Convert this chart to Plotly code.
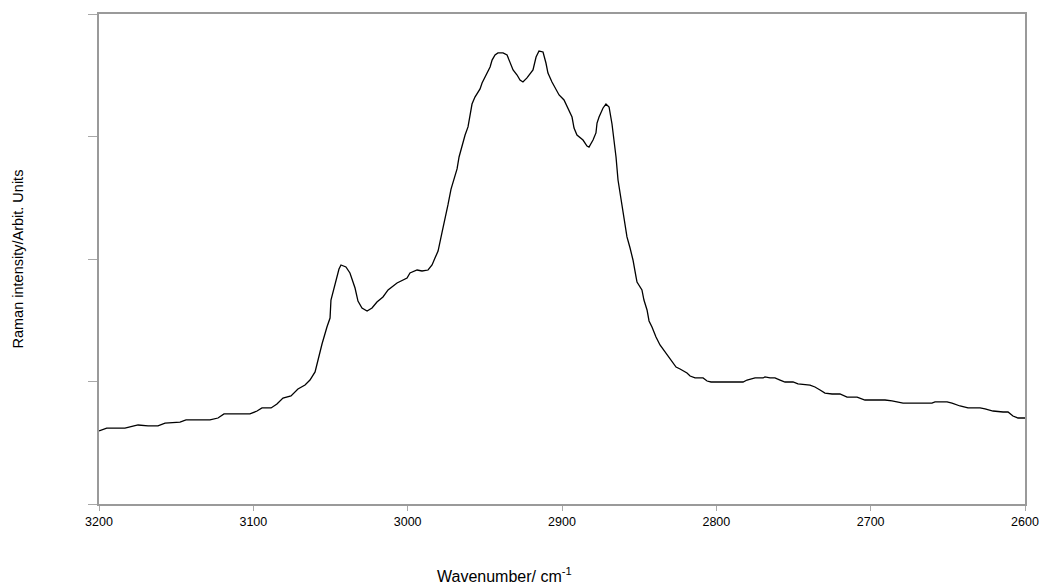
import plotly.graph_objects as go

# Raman spectrum, C-H stretching region
wavenumber = [
    3200, 3195, 3183.2, 3174.7, 3168.2, 3161.8, 3157.2, 3147.5, 3143.6, 3128.1,
    3122.9, 3119, 3102.2, 3097.6, 3094.4, 3088.5, 3084.7, 3080.8, 3075.6, 3071.1,
    3066.5, 3063.3, 3060, 3058.1, 3055.5, 3052.3, 3050.3, 3049.7, 3047.1, 3044.5,
    3043.2, 3040, 3037.4, 3034.1, 3032.2, 3029.6, 3026.3, 3023.1, 3019.9, 3016,
    3012.7, 3006.9, 3000.4, 2998.5, 2993.9, 2990.7, 2986.8, 2984.2, 2982.3, 2980.3,
    2977.7, 2975.8, 2973.9, 2971.9, 2970, 2968, 2966.7, 2964.8, 2962.8, 2960.9,
    2958.3, 2956.4, 2953.1, 2951.8, 2948.6, 2946.6, 2945.3, 2943.4, 2941.5, 2938.2,
    2935.6, 2933.7, 2931.7, 2929.1, 2927.2, 2925.3, 2922.7, 2918.8, 2917.5, 2916.8,
    2914.9, 2912.3, 2910.4, 2909.1, 2906.5, 2904.5, 2901.9, 2898.7, 2896.1, 2893.5,
    2892.2, 2890.3, 2886.4, 2883.8, 2882.5, 2879.9, 2878, 2877.3, 2876, 2873.4,
    2871.5, 2869.5, 2867.6, 2866.3, 2865, 2863.7, 2861.8, 2860.5, 2859.2, 2857.9,
    2855.9, 2854, 2852, 2851.4, 2848.2, 2846.9, 2844.9, 2843.6, 2841.7, 2839.1,
    2836.5, 2833.2, 2830, 2826.1, 2823.5, 2819, 2817, 2813.8, 2808.6, 2806,
    2803.4, 2782.7, 2780.1, 2776.9, 2774.9, 2769.7, 2768.5, 2765.2, 2762, 2758.7,
    2755.5, 2750.3, 2747.1, 2739.3, 2736.1, 2732.8, 2729.6, 2725, 2719.9, 2715.3,
    2708.8, 2703.7, 2690.7, 2686.2, 2682.3, 2679, 2672.6, 2660.3, 2658.3, 2650.5,
    2647.3, 2642.1, 2636.9, 2629.1, 2625.9, 2620.7, 2614.2, 2611, 2607.8, 2604.5,
    2600,
]
intensity = [
    0.596, 0.620, 0.620, 0.645, 0.637, 0.637, 0.661, 0.669, 0.686, 0.686,
    0.702, 0.735, 0.735, 0.759, 0.784, 0.784, 0.816, 0.865, 0.882, 0.939,
    0.971, 1.012, 1.078, 1.176, 1.306, 1.445, 1.518, 1.665, 1.788, 1.918,
    1.951, 1.935, 1.886, 1.763, 1.657, 1.600, 1.576, 1.600, 1.649, 1.690,
    1.747, 1.804, 1.845, 1.886, 1.910, 1.902, 1.910, 1.951, 2.008, 2.065,
    2.220, 2.318, 2.441, 2.571, 2.661, 2.735, 2.833, 2.931, 3.012, 3.078,
    3.265, 3.322, 3.388, 3.437, 3.518, 3.567, 3.624, 3.665, 3.682, 3.682,
    3.665, 3.600, 3.543, 3.502, 3.461, 3.445, 3.478, 3.543, 3.600, 3.649,
    3.698, 3.690, 3.600, 3.518, 3.445, 3.396, 3.339, 3.298, 3.233, 3.159,
    3.069, 3.012, 2.971, 2.922, 2.914, 2.971, 3.029, 3.110, 3.159, 3.233,
    3.265, 3.241, 3.102, 2.971, 2.833, 2.645, 2.482, 2.400, 2.294, 2.180,
    2.090, 1.992, 1.853, 1.812, 1.747, 1.665, 1.584, 1.494, 1.445, 1.363,
    1.298, 1.241, 1.192, 1.118, 1.102, 1.069, 1.045, 1.029, 1.029, 1.004,
    0.996, 0.996, 1.012, 1.020, 1.029, 1.029, 1.037, 1.029, 1.029, 1.012,
    0.996, 0.996, 0.980, 0.971, 0.955, 0.931, 0.906, 0.898, 0.898, 0.873,
    0.873, 0.849, 0.849, 0.841, 0.833, 0.824, 0.824, 0.824, 0.833, 0.833,
    0.824, 0.800, 0.784, 0.784, 0.776, 0.759, 0.751, 0.751, 0.718, 0.702,
    0.702,
]

x_ticks = [3200, 3100, 3000, 2900, 2800, 2700, 2600]
y_ticks = [0, 1, 2, 3, 4]

FONT = "Liberation Sans, Arial, sans-serif"
FRAME = "#9a9a9a"

fig = go.Figure()
fig.add_trace(go.Scatter(
    x=wavenumber, y=intensity, mode="lines",
    line=dict(color="black", width=1.3),
    hoverinfo="skip", showlegend=False,
))

fig.update_layout(
    width=1040, height=585,
    margin=dict(l=99, r=15, t=14, b=81),
    paper_bgcolor="white", plot_bgcolor="white",
    font=dict(family=FONT, size=13, color="black"),
    xaxis=dict(
        range=[3200, 2600], tickmode="array", tickvals=x_ticks,
        ticktext=[str(v) for v in x_ticks],
        showgrid=False, zeroline=False, automargin=False,
        showline=True, linecolor=FRAME, linewidth=2, mirror=True,
        ticks="outside", ticklen=5, tickwidth=1, tickcolor="#a8a8a8",
        tickfont=dict(family=FONT, size=12.5, color="black"),
    ),
    yaxis=dict(
        range=[0, 4], tickmode="array", tickvals=y_ticks,
        showticklabels=False, automargin=False,
        showgrid=False, zeroline=False,
        showline=True, linecolor=FRAME, linewidth=2, mirror=True,
        ticks="outside", ticklen=9, tickwidth=1, tickcolor="#a8a8a8",
    ),
    annotations=[
        dict(text="Wavenumber/ cm<sup>-1</sup>", xref="paper", yref="paper",
             x=(504 - 99) / 926, y=-(575 - 504) / 490,
             xanchor="center", yanchor="middle", showarrow=False,
             font=dict(family=FONT, size=16, color="black")),
        dict(text="Raman intensity/Arbit. Units", xref="paper", yref="paper",
             x=-(99 - 17.5) / 926, y=0.5, textangle=-90,
             xanchor="center", yanchor="middle", showarrow=False,
             font=dict(family=FONT, size=14.5, color="black")),
    ],
)

fig.write_html("out.html")
